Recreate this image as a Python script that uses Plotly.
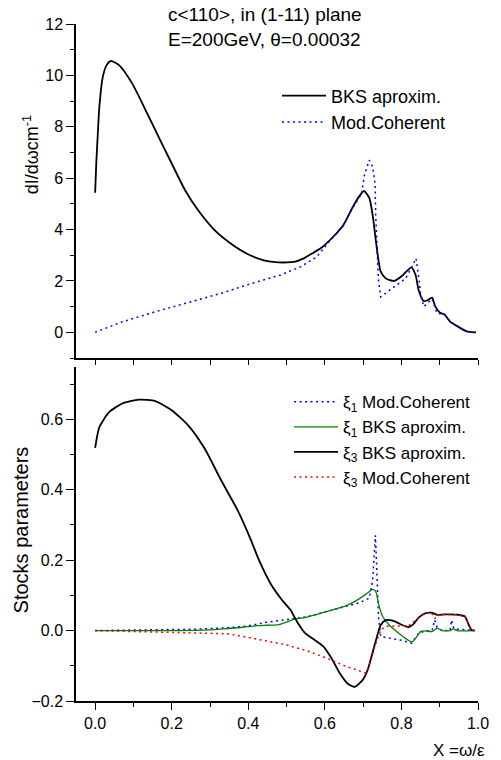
import plotly.graph_objects as go

# ---------------- data ----------------
# Top panel: dI/dw
bks_top_x = [0.000, 0.003, 0.007, 0.011, 0.020, 0.030, 0.041, 0.063, 0.097, 0.132,
             0.166, 0.200, 0.235, 0.269, 0.312, 0.355, 0.398, 0.441, 0.470, 0.501,
             0.519, 0.545, 0.570, 0.592, 0.604, 0.622, 0.648, 0.673, 0.690, 0.702,
             0.716, 0.725, 0.733, 0.740, 0.746, 0.759, 0.781, 0.802, 0.815, 0.826,
             0.837, 0.845, 0.858, 0.867, 0.880, 0.888, 0.901, 0.912, 0.927, 0.948,
             0.970, 0.991, 0.995]
bks_top_y = [5.43, 6.60, 7.74, 8.77, 9.94, 10.40, 10.56, 10.39, 9.68, 8.64,
             7.60, 6.57, 5.53, 4.75, 3.98, 3.45, 3.05, 2.80, 2.73, 2.72,
             2.74, 2.88, 3.10, 3.30, 3.46, 3.72, 4.17, 4.88, 5.30, 5.50,
             5.23, 4.55, 3.59, 2.81, 2.36, 2.10, 2.00, 2.20, 2.40, 2.53,
             2.23, 1.64, 1.22, 1.24, 1.35, 1.02, 0.76, 0.70, 0.42, 0.22,
             0.04, 0.00, 0.00]

mod_top_x = [0.000, 0.071, 0.157, 0.243, 0.329, 0.415, 0.484, 0.536, 0.579, 0.604,
             0.622, 0.648, 0.673, 0.696, 0.703, 0.716, 0.725, 0.731, 0.733, 0.736,
             0.740, 0.746, 0.776, 0.811, 0.830, 0.838, 0.845, 0.850, 0.858, 0.875,
             0.880, 0.887, 0.893, 0.912, 0.927, 0.948, 0.970, 0.991]
mod_top_y = [0.00, 0.41, 0.80, 1.17, 1.52, 1.93, 2.23, 2.55, 2.94, 3.40,
             3.70, 4.15, 4.85, 5.40, 6.10, 6.70, 6.44, 5.79, 4.50, 3.20,
             2.03, 1.38, 1.71, 2.10, 2.62, 2.88, 2.16, 1.52, 1.00, 1.26,
             1.30, 1.00, 0.74, 0.70, 0.42, 0.22, 0.04, 0.00]

# Bottom panel: Stokes parameters
xi3_bks_x = [0.000, 0.011, 0.037, 0.071, 0.114, 0.157, 0.200, 0.243, 0.286, 0.329,
             0.372, 0.407, 0.428, 0.458, 0.488, 0.510, 0.527, 0.549, 0.570, 0.596,
             0.617, 0.639, 0.660, 0.678, 0.699, 0.712, 0.729, 0.746, 0.759, 0.781,
             0.802, 0.819, 0.832, 0.845, 0.862, 0.878, 0.893, 0.914, 0.948, 0.966,
             0.974, 0.983, 0.991]
xi3_bks_y = [0.519, 0.578, 0.621, 0.645, 0.656, 0.652, 0.626, 0.583, 0.517, 0.427,
             0.342, 0.257, 0.200, 0.134, 0.087, 0.059, 0.026, -0.008, -0.024, -0.045,
             -0.078, -0.121, -0.151, -0.160, -0.140, -0.111, -0.045, 0.016, 0.030, 0.027,
             0.016, 0.010, 0.019, 0.037, 0.049, 0.051, 0.045, 0.046, 0.045, 0.040,
             0.021, 0.002, 0.000]

xi1_bks_x = [0.000, 0.200, 0.300, 0.346, 0.372, 0.398, 0.424, 0.440, 0.476, 0.500,
             0.519, 0.553, 0.604, 0.656, 0.682, 0.708, 0.725, 0.733, 0.742, 0.751,
             0.768, 0.794, 0.819, 0.828, 0.837, 0.850, 0.862, 0.880, 0.893, 0.906,
             0.927, 0.935, 0.945, 0.991]
xi1_bks_y = [0.000, 0.000, 0.002, 0.006, 0.008, 0.011, 0.014, 0.015, 0.016, 0.024,
             0.032, 0.038, 0.054, 0.071, 0.085, 0.104, 0.117, 0.111, 0.068, 0.040,
             0.016, -0.008, -0.028, -0.032, -0.022, -0.003, -0.001, -0.003, 0.007, 0.000,
             0.000, 0.005, 0.000, 0.000]

xi1_mod_x = [0.000, 0.269, 0.346, 0.398, 0.450, 0.501, 0.553, 0.604, 0.656, 0.690,
             0.716, 0.725, 0.729, 0.732, 0.735, 0.738, 0.740, 0.746, 0.776, 0.802,
             0.826, 0.845, 0.862, 0.880, 0.887, 0.893, 0.906, 0.927, 0.931, 0.937,
             0.991]
xi1_mod_y = [0.000, 0.004, 0.008, 0.013, 0.024, 0.031, 0.039, 0.054, 0.070, 0.079,
             0.092, 0.144, 0.219, 0.271, 0.191, 0.078, 0.040, -0.017, -0.024, -0.028,
             -0.036, -0.008, -0.001, 0.000, 0.030, 0.010, 0.000, 0.000, 0.030, 0.005,
             0.000]

xi3_mod_x = [0.000, 0.187, 0.269, 0.346, 0.398, 0.450, 0.501, 0.553, 0.604, 0.656,
             0.704, 0.708, 0.721, 0.729, 0.738, 0.746, 0.759, 0.776, 0.802, 0.819,
             0.837, 0.854, 0.862, 0.878, 0.888, 0.893, 0.914, 0.948, 0.966, 0.974,
             0.983, 0.991]
xi3_mod_y = [0.000, -0.005, -0.007, -0.009, -0.019, -0.031, -0.041, -0.057, -0.078, -0.102,
             -0.121, -0.121, -0.083, -0.050, -0.022, 0.002, 0.012, 0.013, 0.015, 0.014,
             0.030, 0.045, 0.049, 0.051, 0.034, 0.045, 0.046, 0.045, 0.040, 0.021,
             0.002, 0.000]

top_yticks = [0, 2, 4, 6, 8, 10, 12]
bot_yticks = [-0.2, 0.0, 0.2, 0.4, 0.6]
bot_xticks = [0.0, 0.2, 0.4, 0.6, 0.8, 1.0]

# ---------------- figure ----------------
FONT = "Arial, 'Liberation Sans', sans-serif"
BLUE = "rgb(0,0,255)"
GREEN = "rgb(0,128,0)"
RED = "rgb(255,0,0)"
DOT = "2px,3.5px"

fig = go.Figure()

fig.add_trace(go.Scatter(x=bks_top_x, y=bks_top_y, mode="lines", name="BKS aproxim.",
                         line=dict(color="black", width=1.8, shape="spline", smoothing=0.6),
                         xaxis="x", yaxis="y", legend="legend"))
fig.add_trace(go.Scatter(x=mod_top_x, y=mod_top_y, mode="lines", name="Mod.Coherent",
                         line=dict(color=BLUE, width=1.5, dash=DOT),
                         xaxis="x", yaxis="y", legend="legend"))

fig.add_trace(go.Scatter(x=xi1_mod_x, y=xi1_mod_y, mode="lines",
                         name="ξ<sub>1</sub> Mod.Coherent",
                         line=dict(color=BLUE, width=1.5, dash=DOT),
                         xaxis="x2", yaxis="y2", legend="legend2"))
fig.add_trace(go.Scatter(x=xi1_bks_x, y=xi1_bks_y, mode="lines",
                         name="ξ<sub>1</sub> BKS aproxim.",
                         line=dict(color=GREEN, width=1.3, shape="spline", smoothing=0.5),
                         xaxis="x2", yaxis="y2", legend="legend2"))
fig.add_trace(go.Scatter(x=xi3_bks_x, y=xi3_bks_y, mode="lines",
                         name="ξ<sub>3</sub> BKS aproxim.",
                         line=dict(color="black", width=1.8, shape="spline", smoothing=0.6),
                         xaxis="x2", yaxis="y2", legend="legend2"))
fig.add_trace(go.Scatter(x=xi3_mod_x, y=xi3_mod_y, mode="lines",
                         name="ξ<sub>3</sub> Mod.Coherent",
                         line=dict(color=RED, width=1.5, dash=DOT),
                         xaxis="x2", yaxis="y2", legend="legend2"))

axis_common = dict(showline=True, linecolor="black", linewidth=1.5, showgrid=False,
                   zeroline=False, ticks="outside", tickcolor="black", tickwidth=1.3,
                   tickfont=dict(size=16, color="black", family=FONT))

fig.update_layout(
    width=501, height=760,
    margin=dict(l=76, r=18, t=24, b=59),
    paper_bgcolor="white", plot_bgcolor="white",
    font=dict(family=FONT, color="black"),
    xaxis=dict(axis_common, anchor="y", range=[-0.05, 1.0], tick0=0, dtick=0.1,
               ticklen=5, showticklabels=False),
    yaxis=dict(axis_common, anchor="x", domain=[0.5066, 1.0], range=[-1, 12],
               tickvals=top_yticks, ticklen=8,
               minor=dict(dtick=1, tick0=0, ticks="outside", ticklen=4,
                          tickcolor="black", tickwidth=1.3)),
    xaxis2=dict(axis_common, anchor="y2", range=[-0.05, 1.0], tickvals=bot_xticks,
                tickformat=".1f", ticklen=7,
                minor=dict(dtick=0.1, tick0=0, ticks="outside", ticklen=4,
                           tickcolor="black", tickwidth=1.3)),
    yaxis2=dict(axis_common, anchor="x2", domain=[0.0, 0.494], range=[-0.2, 0.75],
                tickvals=bot_yticks, tickformat=".1f", ticklen=8,
                minor=dict(dtick=0.1, tick0=0, ticks="outside", ticklen=4,
                           tickcolor="black", tickwidth=1.3)),
    legend=dict(x=0.5, xanchor="left", y=0.921, yanchor="top",
                bgcolor="rgba(0,0,0,0)", borderwidth=0, itemwidth=44,
                font=dict(size=18, family=FONT, color="black"), tracegroupgap=0),
    legend2=dict(x=0.53, xanchor="left", y=0.468, yanchor="top",
                 bgcolor="rgba(0,0,0,0)", borderwidth=0, itemwidth=44,
                 font=dict(size=17, family=FONT, color="black"), tracegroupgap=0),
    showlegend=True,
)

# Title inside plot
fig.add_annotation(text="c&lt;110&gt;, in (1-11) plane<br>E=200GeV, θ=0.00032",
                   xref="paper", yref="paper", x=0.2234, y=0.996,
                   xanchor="left", yanchor="middle", align="left", showarrow=False,
                   font=dict(size=19, family=FONT, color="black"))
# Axis titles
fig.add_annotation(text="dI/dωcm<sup>-1</sup>", textangle=-90,
                   xref="paper", yref="paper", x=0, xshift=-45, y=0.806,
                   xanchor="center", yanchor="middle", showarrow=False,
                   font=dict(size=18, family=FONT, color="black"))
fig.add_annotation(text="Stocks parameters", textangle=-90,
                   xref="paper", yref="paper", x=0, xshift=-55, y=0.252,
                   xanchor="center", yanchor="middle", showarrow=False,
                   font=dict(size=20, family=FONT, color="black"))
fig.add_annotation(text="X =ω/ε",
                   xref="paper", yref="paper", x=1.0214, y=-0.0724,
                   xanchor="right", yanchor="middle", showarrow=False,
                   font=dict(size=17, family=FONT, color="black"))

fig.write_html("out.html")
